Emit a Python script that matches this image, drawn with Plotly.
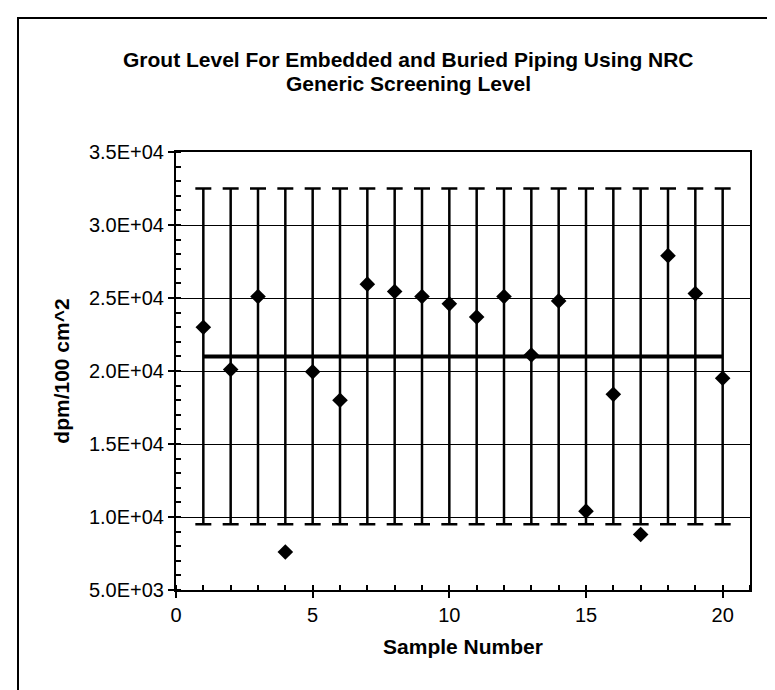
import plotly.graph_objects as go

# Data
sample_number = list(range(1, 21))
grout_level = [23000, 20100, 25100, 7600, 19950, 18000, 25950, 25450, 25100, 24600,
               23700, 25100, 21100, 24800, 10400, 18400, 8800, 27900, 25300, 19500]
screening_level = [21000] * 20
error_half_width = 11500

y_tick_values = [5000, 10000, 15000, 20000, 25000, 30000, 35000]
y_tick_labels = ["5.0E+03", "1.0E+04", "1.5E+04", "2.0E+04", "2.5E+04", "3.0E+04", "3.5E+04"]

title_lines = ["Grout Level For Embedded and Buried Piping Using NRC", "Generic Screening Level"]

FONT = "Liberation Sans, Arial, sans-serif"

fig = go.Figure()

fig.add_trace(go.Scatter(
    x=sample_number, y=screening_level, mode="lines",
    line=dict(color="black", width=4),
    error_y=dict(type="constant", value=error_half_width, color="black",
                 thickness=2.5, width=8),
    showlegend=False, hoverinfo="skip",
))

fig.add_trace(go.Scatter(
    x=sample_number, y=grout_level, mode="markers",
    marker=dict(symbol="diamond", size=12, color="black"),
    showlegend=False,
))

L, R, T, B = 168, 33, 144, 108
PW, PH = 775 - L - R, 690 - T - B

def px_x(px):
    return (px - L) / PW

def px_y(py):
    return (690 - B - py) / PH

fig.update_layout(
    width=775, height=690,
    margin=dict(l=L, r=R, t=T, b=B),
    paper_bgcolor="white", plot_bgcolor="white",
    font=dict(family=FONT, color="black", size=20),
    annotations=[
        dict(text="<b>%s</b>" % title_lines[0], xref="paper", yref="paper",
             x=px_x(400), y=px_y(52), xanchor="center", yanchor="middle",
             showarrow=False, font=dict(size=21, family=FONT, color="black")),
        dict(text="<b>%s</b>" % title_lines[1], xref="paper", yref="paper",
             x=px_x(400), y=px_y(75), xanchor="center", yanchor="middle",
             showarrow=False, font=dict(size=21, family=FONT, color="black")),
    ],
    shapes=[dict(type="rect", xref="paper", yref="paper",
                 x0=px_x(10), x1=px_x(800), y0=px_y(710), y1=px_y(10),
                 line=dict(color="black", width=2), layer="below")],
)

fig.update_xaxes(
    range=[0, 21], tickmode="linear", tick0=0, dtick=5,
    showgrid=False, zeroline=False,
    showline=True, linecolor="black", linewidth=2, mirror=True,
    ticks="outside", ticklen=6, tickwidth=1.5, tickcolor="black",
    minor=dict(dtick=1, ticks="inside", ticklen=5, tickcolor="black", showgrid=False),
    tickfont=dict(size=20),
    title=dict(text="<b>Sample Number</b>", font=dict(size=21), standoff=14),
)

fig.update_yaxes(
    range=[5000, 35000], tickmode="array", tickvals=y_tick_values, ticktext=y_tick_labels,
    showgrid=True, gridcolor="black", gridwidth=1, zeroline=False,
    showline=True, linecolor="black", linewidth=2, mirror=True,
    ticks="outside", ticklen=6, tickwidth=1.5, tickcolor="black",
    minor=dict(dtick=1000, tick0=5000, ticks="inside", ticklen=5, tickcolor="black", showgrid=False),
    tickfont=dict(size=20),
    title=dict(text="<b>dpm/100 cm^2</b>", font=dict(size=21), standoff=14),
)

fig.write_html("out.html")
